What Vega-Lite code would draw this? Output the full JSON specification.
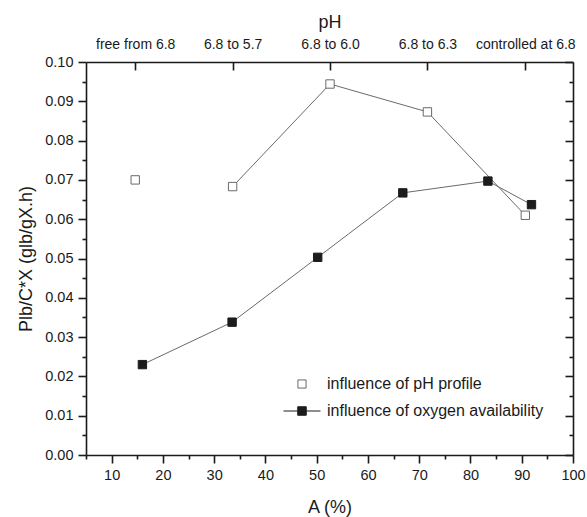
{
  "$schema": "https://vega.github.io/schema/vega-lite/v6.json",
  "width": 487,
  "height": 393,
  "autosize": "none",
  "padding": {"left": 86, "top": 62, "right": 14, "bottom": 62},
  "background": "white",
  "config": {
    "view": {"stroke": null},
    "font": "Liberation Sans",
    "axis": {
      "grid": false,
      "domainColor": "#1a1a1a",
      "tickColor": "#1a1a1a",
      "labelColor": "#1a1a1a",
      "titleColor": "#1a1a1a",
      "labelFont": "Liberation Sans",
      "titleFont": "Liberation Sans",
      "titleFontWeight": "normal",
      "domainWidth": 1.6,
      "tickWidth": 1.6,
      "labelFlush": false,
      "labelOverlap": false
    }
  },
  "data": {
    "values": [
      {"A": 14.6, "P": 0.0700, "series": "influence of pH profile"},
      {"A": 33.6, "P": 0.0683, "series": "influence of pH profile"},
      {"A": 52.6, "P": 0.0944, "series": "influence of pH profile"},
      {"A": 71.6, "P": 0.0873, "series": "influence of pH profile"},
      {"A": 90.7, "P": 0.0610, "series": "influence of pH profile"},
      {"A": 16.0, "P": 0.0230, "series": "influence of oxygen availability"},
      {"A": 33.5, "P": 0.0338, "series": "influence of oxygen availability"},
      {"A": 50.2, "P": 0.0503, "series": "influence of oxygen availability"},
      {"A": 66.8, "P": 0.0667, "series": "influence of oxygen availability"},
      {"A": 83.4, "P": 0.0697, "series": "influence of oxygen availability"},
      {"A": 91.9, "P": 0.0637, "series": "influence of oxygen availability"}
    ]
  },
  "layer": [
    {
      "transform": [{"filter": "datum.series == 'influence of pH profile' && datum.A > 20"}],
      "mark": {"type": "line", "color": "#6a6a6a", "strokeWidth": 1},
      "encoding": {
        "x": {
          "field": "A", "type": "quantitative",
          "scale": {"domain": [5, 100], "nice": false, "zero": false},
          "axis": {
            "orient": "bottom",
            "values": [10, 20, 30, 40, 50, 60, 70, 80, 90, 100],
            "format": "d",
            "title": "A (%)",
            "tickSize": 8,
            "labelPadding": 5,
            "labelFontSize": 14.5,
            "titleFontSize": 18,
            "titlePadding": 17
          }
        },
        "y": {
          "field": "P", "type": "quantitative",
          "scale": {"domain": [0, 0.1], "nice": false, "zero": false},
          "axis": {
            "orient": "left",
            "values": [0, 0.01, 0.02, 0.03, 0.04, 0.05, 0.06, 0.07, 0.08, 0.09, 0.1],
            "format": ".2f",
            "title": "Plb/C*X (glb/gX.h)",
            "tickSize": 8,
            "labelPadding": 5,
            "labelFontSize": 14.5,
            "titleFontSize": 18,
            "titlePadding": 9
          }
        }
      }
    },
    {
      "transform": [{"filter": "datum.series == 'influence of oxygen availability'"}],
      "mark": {"type": "line", "color": "#6a6a6a", "strokeWidth": 1},
      "encoding": {
        "x": {
          "field": "A", "type": "quantitative",
          "axis": {
            "orient": "bottom",
            "values": [5, 15, 25, 35, 45, 55, 65, 75, 85, 95],
            "labels": false, "domain": false, "title": null, "tickSize": 4
          }
        },
        "y": {
          "field": "P", "type": "quantitative",
          "axis": {
            "orient": "left",
            "values": [0.005, 0.015, 0.025, 0.035, 0.045, 0.055, 0.065, 0.075, 0.085, 0.095],
            "labels": false, "domain": false, "title": null, "tickSize": 4
          }
        }
      }
    },
    {
      "mark": {"type": "point", "shape": "square", "filled": true, "size": 70, "strokeWidth": 1, "opacity": 1},
      "encoding": {
        "x": {
          "field": "A", "type": "quantitative",
          "axis": {
            "orient": "top",
            "values": [14.6, 33.6, 52.6, 71.6, 90.7],
            "labelExpr": "datum.value < 20 ? 'free from 6.8' : datum.value < 40 ? '6.8 to 5.7' : datum.value < 60 ? '6.8 to 6.0' : datum.value < 80 ? '6.8 to 6.3' : 'controlled at 6.8'",
            "title": "pH",
            "tickSize": -8,
            "labelPadding": 19,
            "labelFontSize": 14,
            "titleFontSize": 18,
            "titlePadding": 6
          }
        },
        "y": {
          "field": "P", "type": "quantitative",
          "axis": {
            "orient": "right",
            "values": [0, 0.01, 0.02, 0.03, 0.04, 0.05, 0.06, 0.07, 0.08, 0.09, 0.1],
            "labels": false, "title": null, "tickSize": -8
          }
        },
        "fill": {
          "condition": {"test": "datum.series == 'influence of pH profile'", "value": "white"},
          "value": "#1c1c1c"
        },
        "stroke": {
          "condition": {"test": "datum.series == 'influence of pH profile'", "value": "#6a6a6a"},
          "value": "#1c1c1c"
        }
      }
    },
    {
      "transform": [{"filter": "false"}],
      "mark": {"type": "point", "filled": true, "size": 1369, "strokeWidth": 1, "opacity": 1},
      "encoding": {
        "x": {"field": "A", "type": "quantitative", "axis": null},
        "y": {
          "field": "P", "type": "quantitative",
          "axis": {
            "orient": "right",
            "values": [0.005, 0.015, 0.025, 0.035, 0.045, 0.055, 0.065, 0.075, 0.085, 0.095],
            "labels": false, "domain": false, "title": null, "tickSize": -4
          }
        },
        "shape": {
          "field": "series", "type": "nominal",
          "scale": {"domain": ["influence of pH profile", "influence of oxygen availability"], "range": ["M-0.22,-0.22H0.22V0.22H-0.22Z", "M-1,0H1M-0.23,-0.23H0.23V0.23H-0.23Z"]},
          "legend": {
            "title": null, "orient": "none", "legendX": 197, "legendY": 303,
            "symbolSize": 1369, "symbolStrokeWidth": 1, "symbolOpacity": 1,
            "labelFontSize": 16, "labelFont": "Liberation Sans", "labelColor": "#1a1a1a",
            "labelOffset": 6, "labelLimit": 400, "rowPadding": -2, "padding": 0
          }
        },
        "fill": {
          "field": "series", "type": "nominal",
          "scale": {"domain": ["influence of pH profile", "influence of oxygen availability"], "range": ["white", "#1c1c1c"]},
          "legend": {
            "title": null, "orient": "none", "legendX": 197, "legendY": 303,
            "symbolSize": 1369, "symbolStrokeWidth": 1, "symbolOpacity": 1,
            "labelFontSize": 16, "labelFont": "Liberation Sans", "labelColor": "#1a1a1a",
            "labelOffset": 6, "labelLimit": 400, "rowPadding": -2, "padding": 0
          }
        },
        "stroke": {
          "field": "series", "type": "nominal",
          "scale": {"domain": ["influence of pH profile", "influence of oxygen availability"], "range": ["#6a6a6a", "#1c1c1c"]},
          "legend": {
            "title": null, "orient": "none", "legendX": 197, "legendY": 303,
            "symbolSize": 1369, "symbolStrokeWidth": 1, "symbolOpacity": 1,
            "labelFontSize": 16, "labelFont": "Liberation Sans", "labelColor": "#1a1a1a",
            "labelOffset": 6, "labelLimit": 400, "rowPadding": -2, "padding": 0
          }
        }
      }
    }
  ],
  "resolve": {"axis": {"x": "independent", "y": "independent"}}
}
